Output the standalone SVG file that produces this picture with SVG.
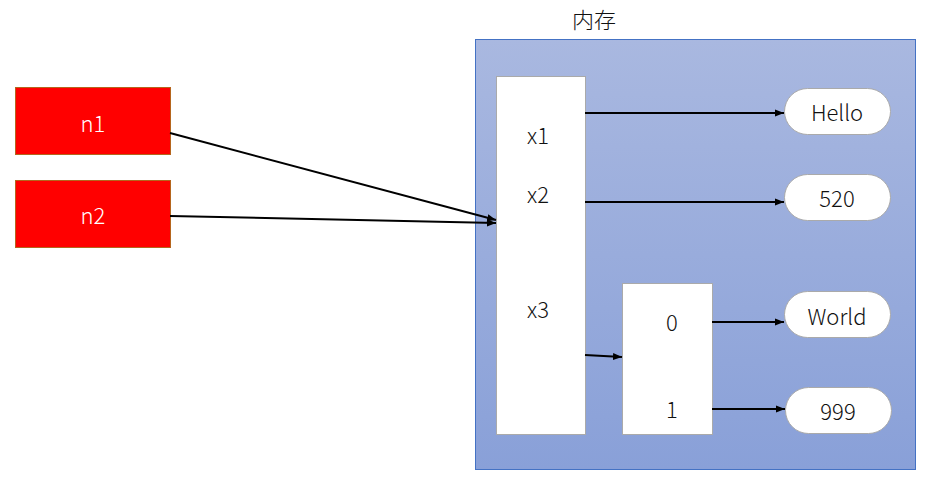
<svg xmlns="http://www.w3.org/2000/svg" width="933" height="485" viewBox="0 0 933 485">
<defs>
<linearGradient id="mem" x1="0" y1="0" x2="0" y2="1">
<stop offset="0" stop-color="#a9b8e0"/>
<stop offset="1" stop-color="#89a0d8"/>
</linearGradient>
<marker id="ah" viewBox="0 0 10 10" refX="10" refY="5" markerWidth="9" markerHeight="9" markerUnits="userSpaceOnUse" orient="auto">
<path d="M0,1 L10,5 L0,9 z" fill="#000"/>
</marker>
<style>
text{font-family:"Noto Sans CJK SC","Noto Sans",sans-serif;font-size:22px;font-weight:300;text-anchor:middle;dominant-baseline:central;fill:#111}
.red{fill:#ff0000;stroke:#b5651d;stroke-width:1}
.white{fill:#fff;stroke:#aaa;stroke-width:1}
.pill{fill:#fff;stroke:#aaa;stroke-width:1}
.wt{fill:#fff}
.conn line{stroke:#000;stroke-width:2;marker-end:url(#ah)}
</style>
</defs>
<rect width="933" height="485" fill="#fff"/>
<g id="memory">
<rect x="475.5" y="39.5" width="440" height="430" fill="url(#mem)" stroke="#4472c4" stroke-width="1"/>
<text x="594" y="18">内存</text>
</g>
<g id="n1"><rect class="red" x="15.5" y="87.5" width="155" height="67"/><text class="wt" x="93" y="122">n1</text></g>
<g id="n2"><rect class="red" x="15.5" y="180.5" width="155" height="67"/><text class="wt" x="93" y="214">n2</text></g>
<g id="vars"><rect class="white" x="496.5" y="76.5" width="89" height="358"/>
<text x="538" y="134">x1</text><text x="538" y="193">x2</text><text x="538" y="308">x3</text></g>
<g id="list"><rect class="white" x="622.5" y="283.5" width="90" height="151"/>
<text x="672" y="321">0</text><text x="672" y="408">1</text></g>
<g id="hello"><rect class="pill" x="784.5" y="88.5" width="106" height="46" rx="23"/><text x="837" y="111">Hello</text></g>
<g id="v520"><rect class="pill" x="784.5" y="174.5" width="106" height="46" rx="23"/><text x="837" y="197">520</text></g>
<g id="world"><rect class="pill" x="784.5" y="291.5" width="106" height="46" rx="23"/><text x="837" y="315">World</text></g>
<g id="v999"><rect class="pill" x="785.5" y="387.5" width="106" height="46" rx="23"/><text x="838" y="410">999</text></g>
<g class="conn" id="connectors">
<line x1="170" y1="133" x2="496" y2="220"/>
<line x1="170" y1="216" x2="496" y2="223"/>
<line x1="585" y1="113" x2="784" y2="113"/>
<line x1="585" y1="202" x2="784" y2="202"/>
<line x1="585" y1="355" x2="622" y2="357"/>
<line x1="712" y1="322" x2="784" y2="322"/>
<line x1="712" y1="409" x2="785" y2="409"/>
</g>
</svg>
